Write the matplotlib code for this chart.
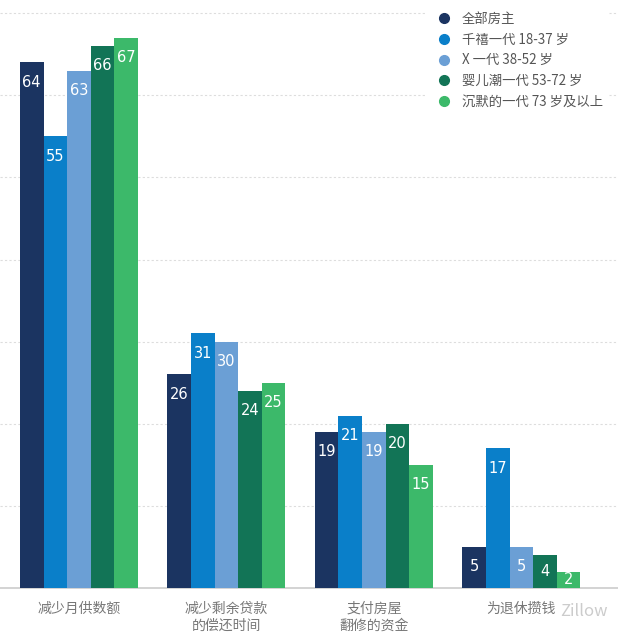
import numpy as np
import matplotlib
matplotlib.use("Agg")
import matplotlib.pyplot as plt

plt.rcParams['font.family'] = ['Noto Sans CJK SC', 'DejaVu Sans']

categories = ["减少月供数额", "减少剩余贷款\n的偿还时间", "支付房屋\n翻修的资金", "为退休攒钱"]
series_names = ["全部房主", "千禧一代 18-37 岁", "X 一代 38-52 岁", "婴儿潮一代 53-72 岁", "沉默的一代 73 岁及以上"]
all_owners = [64, 26, 19, 5]
millennials = [55, 31, 21, 17]
gen_x = [63, 30, 19, 5]
boomers = [66, 24, 20, 4]
silent = [67, 25, 15, 2]
values = [all_owners, millennials, gen_x, boomers, silent]
colors = ["#1b3461", "#0a7fc9", "#6b9fd5", "#127456", "#3cb96a"]

fig = plt.figure(figsize=(6.18, 6.40), dpi=100)
ax = fig.add_axes([0, 52 / 640, 1, 588 / 640])

x = np.arange(len(categories))
w = 0.16
px_per_unit = 588 / 71.6
for i, (name, vals) in enumerate(zip(series_names, values)):
    pos = x + (i - 2) * w
    ax.bar(pos, vals, width=w, color=colors[i], label=name, zorder=3)
    for p, v in zip(pos, vals):
        # label ~20px below the top, or centred for short bars
        off = min(20 / px_per_unit, v / 2)
        ax.text(p, v - off, str(v), ha='center', va='center', color='white',
                fontsize=10.5, family=['DejaVu Sans'], zorder=4)

ax.set_xlim(-0.535, 3.655)
ax.set_ylim(0, 71.6)
ax.set_yticks(np.arange(10, 71, 10))
ax.yaxis.grid(True, linestyle=(0, (2, 2)), color='#dddddd', linewidth=0.8, zorder=0)
ax.tick_params(axis='y', left=False, labelleft=False)
ax.tick_params(axis='x', length=0, pad=10, labelsize=10, labelcolor='#777777')
ax.set_xticks(x)
ax.set_xticklabels(categories, linespacing=1.25)
for s in ['top', 'right', 'left']:
    ax.spines[s].set_visible(False)
ax.spines['bottom'].set_color('#cccccc')
ax.spines['bottom'].set_linewidth(1.2)

handles = [plt.Line2D([], [], marker='o', linestyle='', color=c, markersize=7) for c in colors]
leg = ax.legend(handles, series_names, loc='upper right', bbox_to_anchor=(0.995, 1.0),
                frameon=True, framealpha=1, edgecolor='white', fontsize=9.6,
                handletextpad=0.3, labelspacing=0.5, borderpad=0.4)
for t in leg.get_texts():
    t.set_color('#555555')

fig.text(0.945, 0.045, "Zillow", color='#cccccc', fontsize=12, ha='center', va='center')

fig.savefig("out.png", dpi=100)
